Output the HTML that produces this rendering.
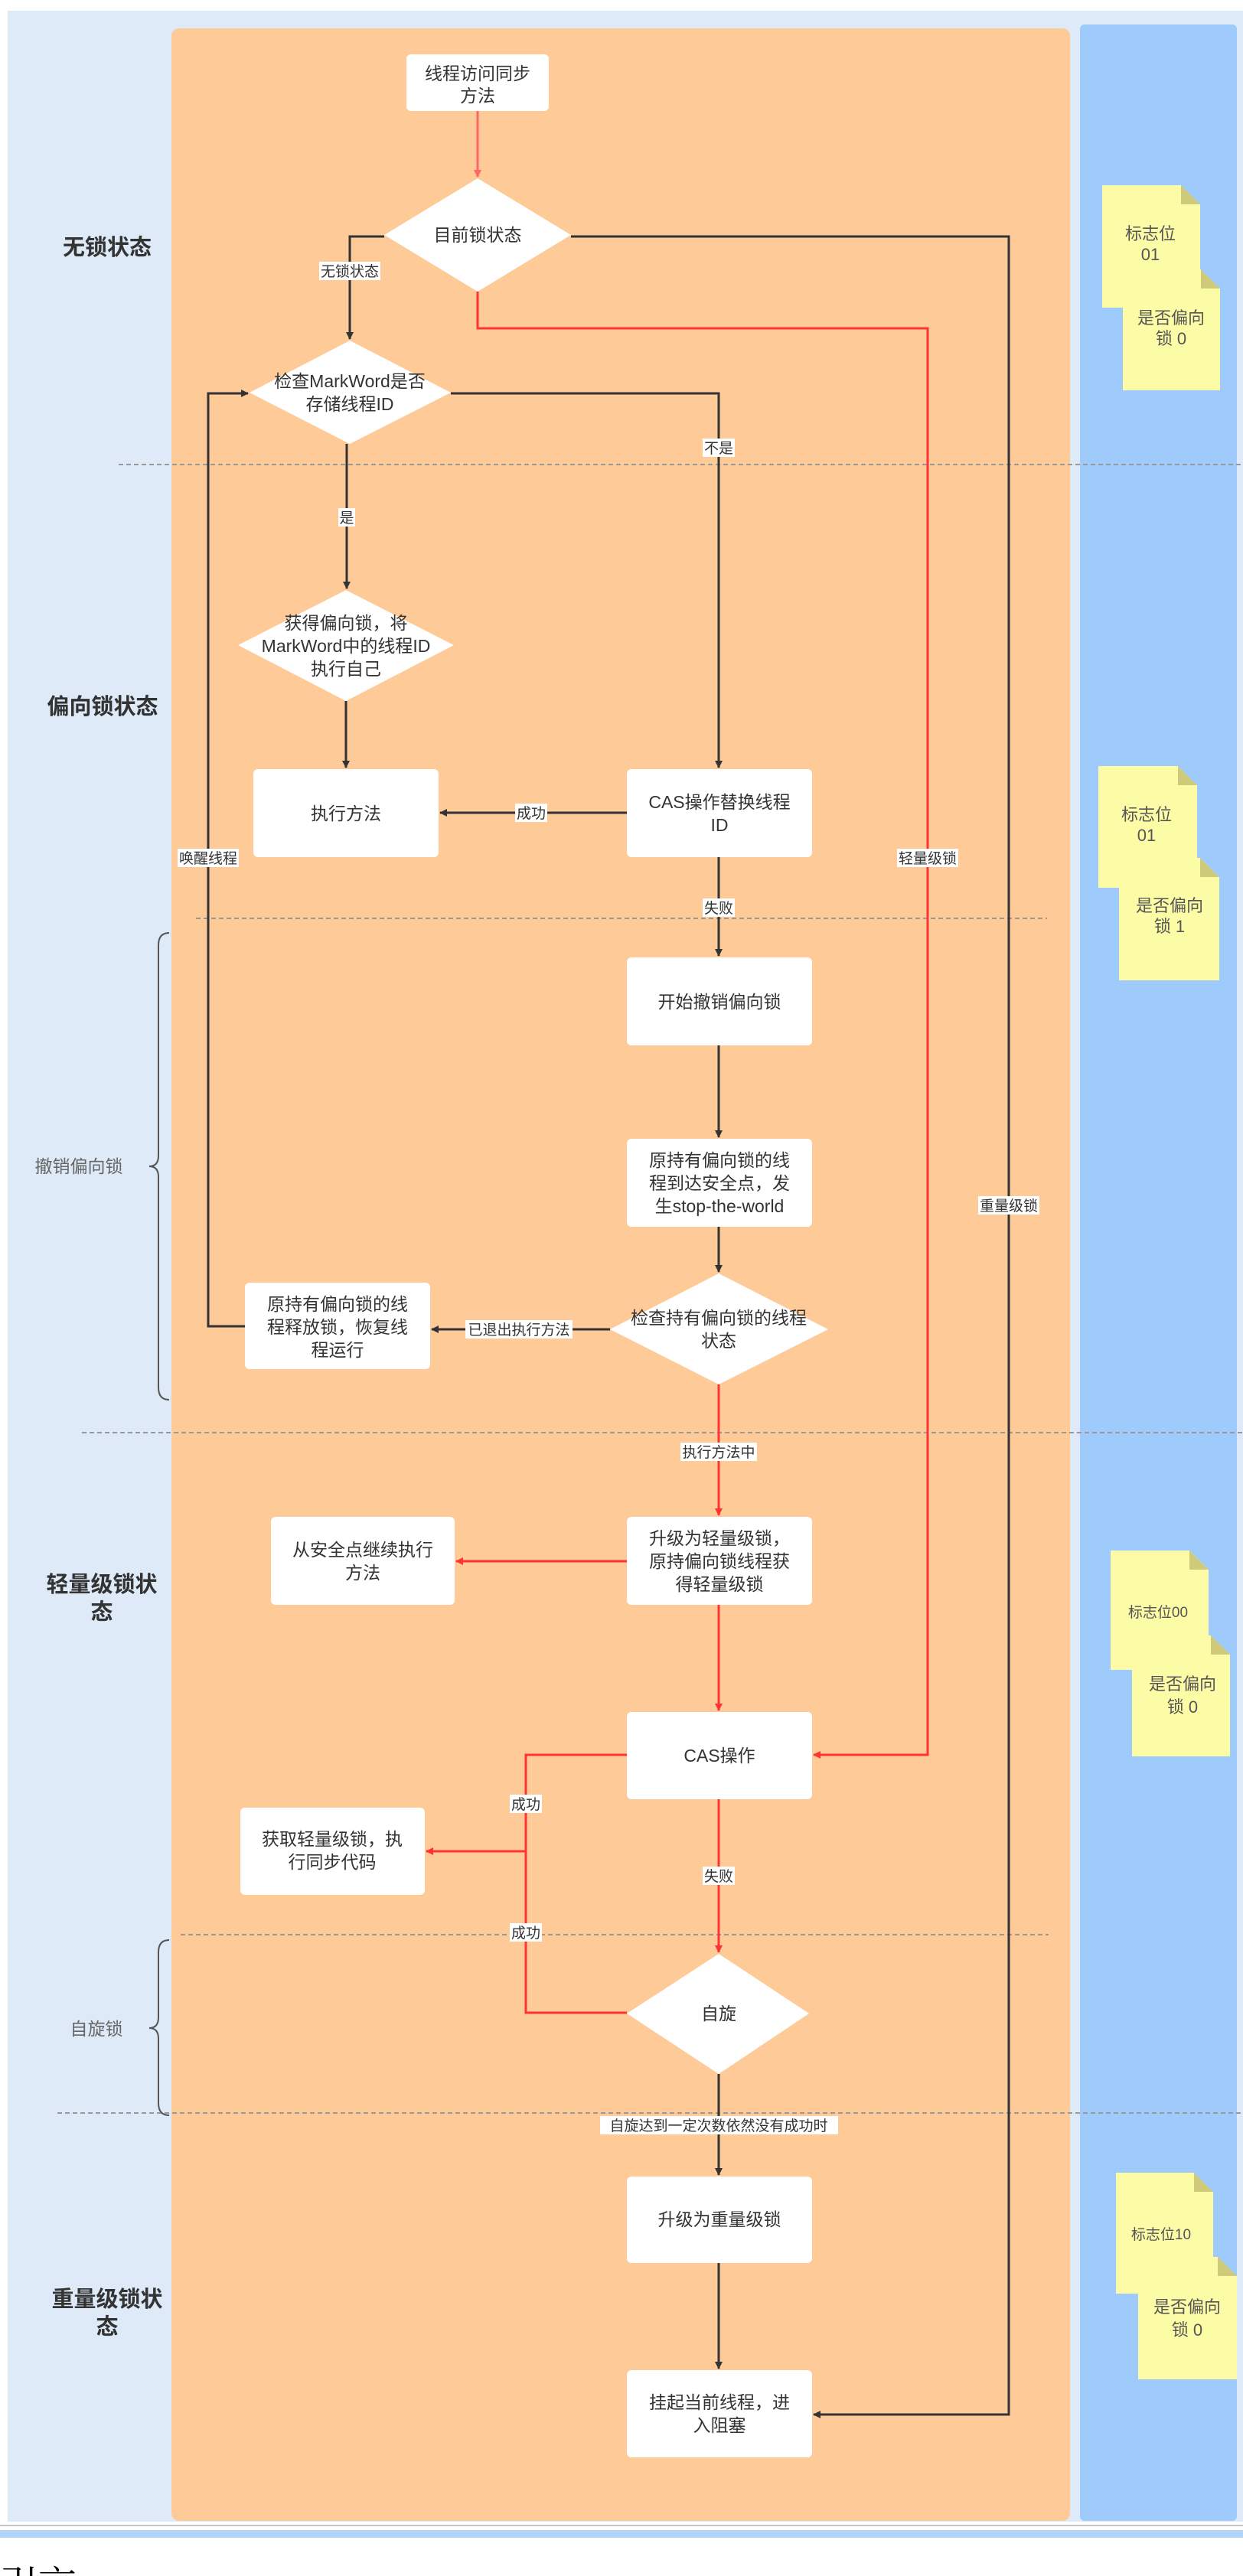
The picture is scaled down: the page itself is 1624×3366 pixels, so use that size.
<!DOCTYPE html>
<html><head><meta charset="utf-8"><style>
html,body{margin:0;padding:0;background:#fff;}
svg{display:block;font-family:"Liberation Sans","Noto Sans CJK SC",sans-serif;}
.t{font-size:23px;fill:#333;text-anchor:middle;}
.l{font-size:19px;fill:#333;text-anchor:middle;}
.b{font-size:29px;fill:#333;font-weight:bold;text-anchor:middle;}
.g{font-size:23px;fill:#666;text-anchor:middle;}
.n{font-size:22px;fill:#555;text-anchor:middle;}
</style></head><body>
<svg width="1624" height="3366" viewBox="0 0 1624 3366" xmlns="http://www.w3.org/2000/svg">
<defs>
<marker id="ak" markerWidth="10" markerHeight="10" refX="9" refY="5" orient="auto" markerUnits="userSpaceOnUse" viewBox="0 0 10 10"><path d="M0,0 L10,5 L0,10 z" fill="#333"/></marker>
<marker id="ar" markerWidth="10" markerHeight="10" refX="9" refY="5" orient="auto" markerUnits="userSpaceOnUse" viewBox="0 0 10 10"><path d="M0,0 L10,5 L0,10 z" fill="#f33"/></marker>
<marker id="ap" markerWidth="10" markerHeight="10" refX="9" refY="5" orient="auto" markerUnits="userSpaceOnUse" viewBox="0 0 10 10"><path d="M0,0 L10,5 L0,10 z" fill="#f66"/></marker>
</defs>
<style>
.k{stroke:#333;stroke-width:3;fill:none;marker-end:url(#ak);}
.kn{stroke:#333;stroke-width:3;fill:none;}
.r{stroke:#f33;stroke-width:3;fill:none;marker-end:url(#ar);}
.rn{stroke:#f33;stroke-width:3;fill:none;}
.d{stroke:#999;stroke-width:2;stroke-dasharray:6,4;fill:none;}
.br{stroke:#555;stroke-width:2;fill:none;}
</style>
<!-- backgrounds -->
<rect x="10" y="14" width="1614" height="3281" fill="#deeaf8"/>
<rect x="224" y="37" width="1174" height="3257" rx="10" fill="#fdca98"/>
<rect x="1411" y="32" width="205" height="3262" rx="6" fill="#9ecbfb"/>
<rect x="0" y="3299" width="1624" height="2" fill="#c4c4c4"/>
<rect x="0" y="3306" width="1624" height="10" fill="#b0d5f8"/>
<text x="0" y="3395" font-size="50" font-family="Liberation Serif,Noto Serif CJK SC,serif" fill="#000">引言</text>

<!-- dashed separators -->
<line class="d" x1="155" y1="607" x2="1624" y2="607"/>
<line class="d" x1="256" y1="1200" x2="1368" y2="1200"/>
<line class="d" x1="107" y1="1872" x2="1624" y2="1872"/>
<line class="d" x1="236" y1="2528" x2="1370" y2="2528"/>
<line class="d" x1="75" y1="2761" x2="1624" y2="2761"/>

<!-- left labels -->
<text class="b" x="140" y="333">无锁状态</text>
<text class="b" x="134" y="933">偏向锁状态</text>
<text class="b" x="133" y="2080">轻量级锁状</text>
<text class="b" x="133" y="2116">态</text>
<text class="b" x="140" y="3014">重量级锁状</text>
<text class="b" x="140" y="3050">态</text>
<text class="g" x="103" y="1532">撤销偏向锁</text>
<text class="g" x="126" y="2659">自旋锁</text>
<path class="br" d="M221,1219 Q207,1219 207,1235 L207,1510 Q207,1524 195,1524 Q207,1524 207,1538 L207,1813 Q207,1829 221,1829"/>
<path class="br" d="M221,2535 Q207,2535 207,2551 L207,2636 Q207,2650 195,2650 Q207,2650 207,2664 L207,2748 Q207,2764 221,2764"/>

<!-- connectors -->
<line class="r" x1="624" y1="145" x2="624" y2="231" style="stroke:#f66;marker-end:url(#ap)"/>
<polyline class="k" points="502,309 457,309 457,443"/>
<polyline class="k" points="746,309 1318,309 1318,3155 1063,3155"/>
<polyline class="r" points="624,381 624,429 1212,429 1212,2293 1063,2293"/>
<polyline class="k" points="589,514 939,514 939,1003"/>
<line class="k" x1="453" y1="580" x2="453" y2="769"/>
<line class="k" x1="452" y1="916" x2="452" y2="1003"/>
<line class="k" x1="819" y1="1062" x2="575" y2="1062"/>
<line class="k" x1="939" y1="1120" x2="939" y2="1249"/>
<line class="k" x1="939" y1="1366" x2="939" y2="1486"/>
<line class="k" x1="939" y1="1603" x2="939" y2="1662"/>
<line class="k" x1="797" y1="1737" x2="564" y2="1737"/>
<polyline class="k" points="320,1733 272,1733 272,514 324,514"/>
<line class="r" x1="939" y1="1809" x2="939" y2="1980"/>
<line class="r" x1="819" y1="2040" x2="596" y2="2040"/>
<line class="r" x1="939" y1="2097" x2="939" y2="2235"/>
<polyline class="rn" points="819,2293 687,2293 687,2630 819,2630"/>
<line class="r" x1="687" y1="2419" x2="557" y2="2419"/>
<line class="r" x1="939" y1="2351" x2="939" y2="2551"/>
<line class="k" x1="939" y1="2710" x2="939" y2="2842"/>
<line class="k" x1="939" y1="2957" x2="939" y2="3095"/>

<!-- edge labels -->
<g>
<rect x="417" y="342" width="80" height="24" fill="#fff"/><text class="l" x="457" y="361">无锁状态</text>
<rect x="918" y="573" width="42" height="24" fill="#fff"/><text class="l" x="939" y="592">不是</text>
<rect x="442" y="664" width="22" height="24" fill="#fff"/><text class="l" x="453" y="683">是</text>
<rect x="673" y="1050" width="42" height="24" fill="#fff"/><text class="l" x="694" y="1069">成功</text>
<rect x="232" y="1109" width="80" height="24" fill="#fff"/><text class="l" x="272" y="1128">唤醒线程</text>
<rect x="1172" y="1109" width="80" height="24" fill="#fff"/><text class="l" x="1212" y="1128">轻量级锁</text>
<rect x="918" y="1174" width="42" height="24" fill="#fff"/><text class="l" x="939" y="1193">失败</text>
<rect x="1278" y="1563" width="80" height="24" fill="#fff"/><text class="l" x="1318" y="1582">重量级锁</text>
<rect x="608" y="1725" width="140" height="24" fill="#fff"/><text class="l" x="678" y="1744">已退出执行方法</text>
<rect x="889" y="1885" width="100" height="24" fill="#fff"/><text class="l" x="939" y="1904">执行方法中</text>
<rect x="666" y="2345" width="42" height="24" fill="#fff"/><text class="l" x="687" y="2364">成功</text>
<rect x="918" y="2439" width="42" height="24" fill="#fff"/><text class="l" x="939" y="2458">失败</text>
<rect x="666" y="2513" width="42" height="24" fill="#fff"/><text class="l" x="687" y="2532">成功</text>
<rect x="784" y="2765" width="311" height="24" fill="#fff"/><text class="l" x="939" y="2784">自旋达到一定次数依然没有成功时</text>
</g>

<!-- nodes -->
<g fill="#fff">
<rect x="531" y="71" width="186" height="74" rx="6"/>
<polygon points="624,233 746,307 624,381 502,307"/>
<polygon points="457,445 589,513 457,580 326,513"/>
<polygon points="452,771 593,843 452,916 311,843"/>
<rect x="331" y="1005" width="242" height="115" rx="6"/>
<rect x="819" y="1005" width="242" height="115" rx="6"/>
<rect x="819" y="1251" width="242" height="115" rx="6"/>
<rect x="819" y="1488" width="242" height="115" rx="6"/>
<polygon points="939,1664 1082,1737 939,1809 797,1737"/>
<rect x="320" y="1676" width="242" height="113" rx="6"/>
<rect x="819" y="1982" width="242" height="115" rx="6"/>
<rect x="354" y="1982" width="240" height="115" rx="6"/>
<rect x="819" y="2237" width="242" height="114" rx="6"/>
<rect x="314" y="2362" width="241" height="114" rx="6"/>
<polygon points="939,2553 1057,2631 939,2710 819,2631"/>
<rect x="819" y="2844" width="242" height="113" rx="6"/>
<rect x="819" y="3097" width="242" height="114" rx="6"/>
</g>
<text class="t" x="624" y="104">线程访问同步</text><text class="t" x="624" y="133">方法</text>
<text class="t" x="624" y="315">目前锁状态</text>
<text class="t" x="457" y="506">检查MarkWord是否</text><text class="t" x="457" y="536">存储线程ID</text>
<text class="t" x="452" y="822">获得偏向锁，将</text><text class="t" x="452" y="852">MarkWord中的线程ID</text><text class="t" x="452" y="882">执行自己</text>
<text class="t" x="452" y="1071">执行方法</text>
<text class="t" x="940" y="1056">CAS操作替换线程</text><text class="t" x="940" y="1086">ID</text>
<text class="t" x="940" y="1317">开始撤销偏向锁</text>
<text class="t" x="940" y="1524">原持有偏向锁的线</text><text class="t" x="940" y="1554">程到达安全点，发</text><text class="t" x="940" y="1584">生stop-the-world</text>
<text class="t" x="939" y="1730">检查持有偏向锁的线程</text><text class="t" x="939" y="1760">状态</text>
<text class="t" x="441" y="1712">原持有偏向锁的线</text><text class="t" x="441" y="1742">程释放锁，恢复线</text><text class="t" x="441" y="1772">程运行</text>
<text class="t" x="940" y="2018">升级为轻量级锁，</text><text class="t" x="940" y="2048">原持偏向锁线程获</text><text class="t" x="940" y="2078">得轻量级锁</text>
<text class="t" x="474" y="2033">从安全点继续执行</text><text class="t" x="474" y="2063">方法</text>
<text class="t" x="940" y="2302">CAS操作</text>
<text class="t" x="434" y="2411">获取轻量级锁，执</text><text class="t" x="434" y="2441">行同步代码</text>
<text class="t" x="939" y="2639">自旋</text>
<text class="t" x="940" y="2908">升级为重量级锁</text>
<text class="t" x="940" y="3147">挂起当前线程，进</text><text class="t" x="940" y="3177">入阻塞</text>

<!-- sticky notes -->
<g>
<polygon points="1440,242 1543,242 1568,267 1568,402 1440,402" fill="#fdfca6"/>
<polygon points="1543,242 1568,267 1543,267" fill="#cfca7a"/>
<polygon points="1467,352 1569,352 1594,377 1594,510 1467,510" fill="#fdfca6"/>
<polygon points="1569,352 1594,377 1569,377" fill="#cfca7a"/>
<text class="n" x="1503" y="313">标志位</text><text class="n" x="1503" y="340">01</text>
<text class="n" x="1530" y="423">是否偏向</text><text class="n" x="1530" y="450">锁 0</text>

<polygon points="1435,1001 1539,1001 1564,1026 1564,1160 1435,1160" fill="#fdfca6"/>
<polygon points="1539,1001 1564,1026 1539,1026" fill="#cfca7a"/>
<polygon points="1462,1121 1568,1121 1593,1146 1593,1281 1462,1281" fill="#fdfca6"/>
<polygon points="1568,1121 1593,1146 1568,1146" fill="#cfca7a"/>
<text class="n" x="1498" y="1072">标志位</text><text class="n" x="1498" y="1099">01</text>
<text class="n" x="1528" y="1191">是否偏向</text><text class="n" x="1528" y="1218">锁 1</text>

<polygon points="1451,2026 1554,2026 1579,2051 1579,2182 1451,2182" fill="#fdfca6"/>
<polygon points="1554,2026 1579,2051 1554,2051" fill="#cfca7a"/>
<polygon points="1479,2137 1582,2137 1607,2162 1607,2295 1479,2295" fill="#fdfca6"/>
<polygon points="1582,2137 1607,2162 1582,2162" fill="#cfca7a"/>
<text class="n" x="1513" y="2113" style="font-size:19px">标志位00</text>
<text class="n" x="1545" y="2208">是否偏向</text><text class="n" x="1545" y="2238">锁 0</text>

<polygon points="1458,2839 1560,2839 1585,2864 1585,2997 1458,2997" fill="#fdfca6"/>
<polygon points="1560,2839 1585,2864 1560,2864" fill="#cfca7a"/>
<polygon points="1487,2949 1591,2949 1616,2974 1616,3109 1487,3109" fill="#fdfca6"/>
<polygon points="1591,2949 1616,2974 1591,2974" fill="#cfca7a"/>
<text class="n" x="1517" y="2926" style="font-size:19px">标志位10</text>
<text class="n" x="1551" y="3022">是否偏向</text><text class="n" x="1551" y="3052">锁 0</text>
</g>
</svg>
</body></html>
